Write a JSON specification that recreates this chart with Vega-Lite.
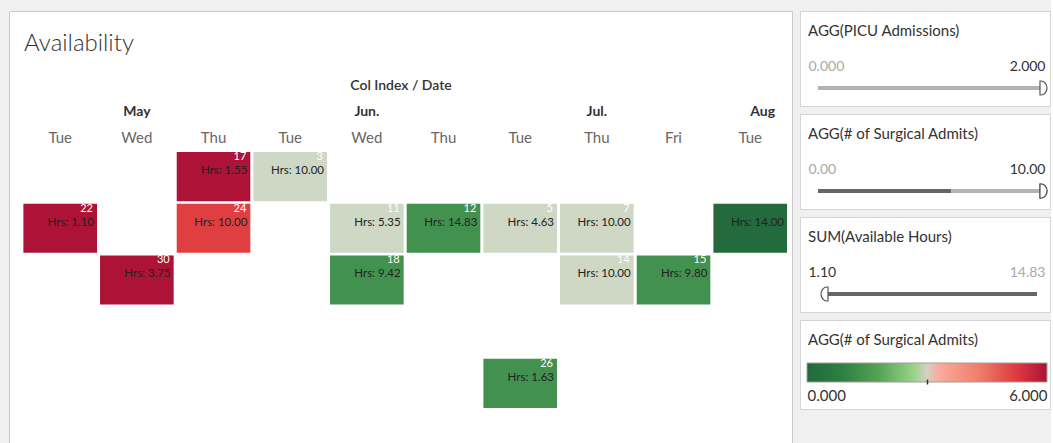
{
  "$schema": "https://vega.github.io/schema/vega-lite/v6.json",
  "background": "#f0f0f0",
  "padding": {"left": 8, "top": 10, "right": 0, "bottom": 0},
  "config": {"view": {"stroke": null}, "font": "Lato", "axis": {"grid": false}},
  "spacing": 6,
  "hconcat": [
    {
      "width": 783,
      "height": 434,
      "view": {"fill": "white", "stroke": "#c8c8c8"},
      "title": {"text": "Availability", "anchor": "start", "frame": "group", "fontSize": 24, "fontWeight": 300, "color": "#333333", "offset": -45, "dx": 15, "font": "Lato"},
      "data": {"values": [
        {"col": "0|Tue|", "row": "2", "day": "22", "hrs": 1.10, "hrsLabel": "Hrs: 1.10", "admits": 6},
        {"col": "1|Wed|May", "row": "3", "day": "30", "hrs": 3.75, "hrsLabel": "Hrs: 3.75", "admits": 6},
        {"col": "2|Thu|", "row": "1", "day": "17", "hrs": 1.55, "hrsLabel": "Hrs: 1.55", "admits": 6},
        {"col": "2|Thu|", "row": "2", "day": "24", "hrs": 10.00, "hrsLabel": "Hrs: 10.00", "admits": 5},
        {"col": "3|Tue|", "row": "1", "day": "3", "hrs": 10.00, "hrsLabel": "Hrs: 10.00", "admits": 3},
        {"col": "4|Wed|Jun.", "row": "2", "day": "11", "hrs": 5.35, "hrsLabel": "Hrs: 5.35", "admits": 3},
        {"col": "4|Wed|Jun.", "row": "3", "day": "18", "hrs": 9.42, "hrsLabel": "Hrs: 9.42", "admits": 1},
        {"col": "5|Thu|", "row": "2", "day": "12", "hrs": 14.83, "hrsLabel": "Hrs: 14.83", "admits": 1},
        {"col": "6|Tue|", "row": "2", "day": "5", "hrs": 4.63, "hrsLabel": "Hrs: 4.63", "admits": 3},
        {"col": "6|Tue|", "row": "5", "day": "26", "hrs": 1.63, "hrsLabel": "Hrs: 1.63", "admits": 1},
        {"col": "7|Thu|Jul.", "row": "2", "day": "7", "hrs": 10.00, "hrsLabel": "Hrs: 10.00", "admits": 3},
        {"col": "7|Thu|Jul.", "row": "3", "day": "14", "hrs": 10.00, "hrsLabel": "Hrs: 10.00", "admits": 3},
        {"col": "8|Fri|", "row": "3", "day": "15", "hrs": 9.80, "hrsLabel": "Hrs: 9.80", "admits": 1},
        {"col": "9|Tue|Aug", "row": "2", "day": "", "hrs": 14.00, "hrsLabel": "Hrs: 14.00", "admits": 0}
      ]},
      "encoding": {
        "x": {"field": "col", "type": "ordinal",
          "scale": {"paddingInner": 0.04, "paddingOuter": 0.1265, "align": 0.742},
          "axis": {"orient": "top", "offset": -134, "ticks": false, "domain": false, "labelPadding": 0, "title": null,
            "labelExpr": "split(datum.value, '|')[1]", "labelFontSize": 15, "labelColor": "#666666", "labelFont": "Lato", "labelAngle": 0}},
        "y": {"field": "row", "type": "ordinal",
          "scale": {"domain": ["1", "2", "3", "4", "5"], "range": [141, 397], "paddingInner": 0.05, "paddingOuter": 0},
          "axis": null}
      },
      "layer": [
        {
          "mark": {"type": "rect"},
          "encoding": {
            "color": {"field": "admits", "type": "quantitative",
              "scale": {"domain": [0, 1, 3, 5, 6], "range": ["#236a3d", "#43914f", "#cfd8c5", "#e03f41", "#ad1237"]},
              "legend": null}
          }
        },
        {
          "mark": {"type": "text", "align": "right", "baseline": "middle", "dx": -4, "dy": 5, "color": "white", "fontSize": 11, "font": "Lato"},
          "encoding": {
            "x": {"field": "col", "type": "ordinal", "bandPosition": 1,
              "axis": {"orient": "top", "offset": -107, "ticks": false, "domain": false, "labelPadding": 0,
                "title": "Col Index / Date", "titleFontSize": 14, "titleFontWeight": 600, "titleColor": "#333333", "titleFont": "Lato", "titlePadding": 12,
                "labelExpr": "split(datum.value, '|')[2]", "labelFontSize": 14, "labelFontWeight": "bold", "labelColor": "#333333", "labelFont": "Lato", "labelAngle": 0,
                "labelAlign": {"condition": {"test": "indexof(datum.value, 'Aug') >= 0", "value": "left"}, "value": "center"}}},
            "y": {"field": "row", "type": "ordinal", "bandPosition": 0},
            "text": {"field": "day"}
          }
        },
        {
          "mark": {"type": "text", "align": "right", "baseline": "middle", "dx": -3, "dy": 19, "color": "#222222", "fontSize": 11.5, "font": "Lato"},
          "encoding": {
            "x": {"field": "col", "type": "ordinal", "bandPosition": 1, "axis": null},
            "y": {"field": "row", "type": "ordinal", "bandPosition": 0},
            "text": {"field": "hrsLabel"}
          }
        }
      ],
      "resolve": {"axis": {"x": "independent"}}
    },
    {
      "spacing": 6,
      "vconcat": [
        {
          "width": 250, "height": 95,
          "view": {"fill": "white", "stroke": "#d4d4d4"},
          "title": {"text": "AGG(PICU Admissions)", "anchor": "start", "frame": "group", "fontSize": 15, "fontWeight": "normal", "color": "#333333", "offset": -28, "dx": 8, "font": "Lato"},
          "data": {"values": [{"measure": "AGG(PICU Admissions)", "start": 0, "end": 2, "part": "outside", "handle": 2}]},
          "encoding": {"y": {"field": "measure", "type": "nominal", "axis": null, "scale": {"range": [70, 84], "paddingInner": 0, "paddingOuter": 0}}},
          "layer": [
            {
              "mark": {"type": "rule", "strokeWidth": 4},
              "encoding": {
                "x": {"field": "start", "type": "quantitative",
                  "scale": {"domain": [0, 2], "range": [18, 240], "nice": false, "zero": false},
                  "axis": {"orient": "top", "values": [0, 2], "format": ".3f", "offset": -62, "ticks": false, "domain": false, "labelPadding": 0, "title": null, "labelFontSize": 14, "labelFont": "Lato", "labelFlush": false, "labelOverlap": false,
                    "labelColor": {"condition": {"test": "datum.index == 0", "value": "#a8a8a8"}, "value": "#333333"},
                    "labelAlign": {"condition": {"test": "datum.index == 0", "value": "left"}, "value": "right"},
                    "labelOffset": {"condition": {"test": "datum.index == 0", "value": -10}, "value": 5}}},
                "x2": {"field": "end"},
                "color": {"field": "part", "type": "nominal", "scale": {"domain": ["inside", "outside"], "range": ["#666666", "#b3b3b3"]}, "legend": null}
              }
            },
            {
              "mark": {"type": "point", "shape": "M0,-1L0.15,-1A0.85,1 0 0 1 0.15,1L0,1Z", "size": 196, "filled": true, "fill": "white", "stroke": "#555555", "strokeWidth": 1.2, "opacity": 1},
              "encoding": {"x": {"field": "handle", "type": "quantitative"}}
            }
          ]
        },
        {
          "width": 250, "height": 95,
          "view": {"fill": "white", "stroke": "#d4d4d4"},
          "title": {"text": "AGG(# of Surgical Admits)", "anchor": "start", "frame": "group", "fontSize": 15, "fontWeight": "normal", "color": "#333333", "offset": -28, "dx": 8, "font": "Lato"},
          "data": {"values": [
            {"measure": "AGG(# of Surgical Admits)", "start": 0, "end": 6, "part": "inside", "handle": 10},
            {"measure": "AGG(# of Surgical Admits)", "start": 6, "end": 10, "part": "outside", "handle": 10}
          ]},
          "encoding": {"y": {"field": "measure", "type": "nominal", "axis": null, "scale": {"range": [70, 84], "paddingInner": 0, "paddingOuter": 0}}},
          "layer": [
            {
              "mark": {"type": "rule", "strokeWidth": 4},
              "encoding": {
                "x": {"field": "start", "type": "quantitative",
                  "scale": {"domain": [0, 10], "range": [18, 240], "nice": false, "zero": false},
                  "axis": {"orient": "top", "values": [0, 10], "format": ".2f", "offset": -62, "ticks": false, "domain": false, "labelPadding": 0, "title": null, "labelFontSize": 14, "labelFont": "Lato", "labelFlush": false, "labelOverlap": false,
                    "labelColor": {"condition": {"test": "datum.index == 0", "value": "#a8a8a8"}, "value": "#333333"},
                    "labelAlign": {"condition": {"test": "datum.index == 0", "value": "left"}, "value": "right"},
                    "labelOffset": {"condition": {"test": "datum.index == 0", "value": -10}, "value": 5}}},
                "x2": {"field": "end"},
                "color": {"field": "part", "type": "nominal", "scale": {"domain": ["inside", "outside"], "range": ["#666666", "#b3b3b3"]}, "legend": null}
              }
            },
            {
              "mark": {"type": "point", "shape": "M0,-1L0.15,-1A0.85,1 0 0 1 0.15,1L0,1Z", "size": 196, "filled": true, "fill": "white", "stroke": "#555555", "strokeWidth": 1.2, "opacity": 1},
              "encoding": {"x": {"field": "handle", "type": "quantitative"}}
            }
          ]
        },
        {
          "width": 250, "height": 95,
          "view": {"fill": "white", "stroke": "#d4d4d4"},
          "title": {"text": "SUM(Available Hours)", "anchor": "start", "frame": "group", "fontSize": 15, "fontWeight": "normal", "color": "#333333", "offset": -28, "dx": 8, "font": "Lato"},
          "data": {"values": [{"measure": "SUM(Available Hours)", "start": 1.10, "end": 14.83, "part": "inside", "handle": 1.10}]},
          "encoding": {"y": {"field": "measure", "type": "nominal", "axis": null, "scale": {"range": [70, 84], "paddingInner": 0, "paddingOuter": 0}}},
          "layer": [
            {
              "mark": {"type": "rule", "strokeWidth": 4},
              "encoding": {
                "x": {"field": "start", "type": "quantitative",
                  "scale": {"domain": [1.10, 14.83], "range": [28, 237], "nice": false, "zero": false},
                  "axis": {"orient": "top", "values": [1.10, 14.83], "format": ".2f", "offset": -62, "ticks": false, "domain": false, "labelPadding": 0, "title": null, "labelFontSize": 14, "labelFont": "Lato", "labelFlush": false, "labelOverlap": false,
                    "labelColor": {"condition": {"test": "datum.index == 0", "value": "#333333"}, "value": "#a8a8a8"},
                    "labelAlign": {"condition": {"test": "datum.index == 0", "value": "left"}, "value": "right"},
                    "labelOffset": {"condition": {"test": "datum.index == 0", "value": -20}, "value": 8}}},
                "x2": {"field": "end"},
                "color": {"field": "part", "type": "nominal", "scale": {"domain": ["inside", "outside"], "range": ["#666666", "#b3b3b3"]}, "legend": null}
              }
            },
            {
              "mark": {"type": "point", "shape": "M0,-1L-0.15,-1A0.85,1 0 0 0 -0.15,1L0,1Z", "size": 196, "filled": true, "fill": "white", "stroke": "#555555", "strokeWidth": 1.2, "opacity": 1},
              "encoding": {"x": {"field": "handle", "type": "quantitative"}}
            }
          ]
        },
        {
          "width": 250, "height": 89,
          "view": {"fill": "white", "stroke": "#d4d4d4"},
          "title": {"text": "AGG(# of Surgical Admits)", "anchor": "start", "frame": "group", "fontSize": 15, "fontWeight": "normal", "color": "#333333", "offset": -28, "dx": 8, "font": "Lato"},
          "data": {"values": [{"measure": "AGG(# of Surgical Admits)", "low": 0, "high": 6}]},
          "mark": {"type": "rect", "stroke": "#a39d95", "strokeWidth": 1,
            "color": {"gradient": "linear", "x1": 0, "x2": 1, "y1": 0, "y2": 0, "stops": [
              {"offset": 0, "color": "#1f6a3b"},
              {"offset": 0.15, "color": "#2f7f43"},
              {"offset": 0.3, "color": "#55a455"},
              {"offset": 0.45, "color": "#9cd48c"},
              {"offset": 0.5, "color": "#d7d0c4"},
              {"offset": 0.55, "color": "#f8ac9d"},
              {"offset": 0.72, "color": "#f07c6a"},
              {"offset": 0.87, "color": "#de3b40"},
              {"offset": 1, "color": "#ad1237"}
            ]}},
          "encoding": {
            "x": {"field": "low", "type": "quantitative",
              "scale": {"domain": [0, 6], "range": [7, 247], "nice": false, "zero": false},
              "axis": {"orient": "bottom", "values": [0, 3, 6], "labelExpr": "datum.value == 3 ? '' : format(datum.value, '.3f')", "offset": -30, "tickSize": 5, "tickColor": "#333333", "tickWidth": 1.5,
                "tickOpacity": {"condition": {"test": "datum.value == 3", "value": 1}, "value": 0},
                "domain": false, "labelFlush": true, "labelPadding": 4, "title": null, "zindex": 1, "labelFontSize": 15, "labelColor": "#333333", "labelFont": "Lato", "labelOverlap": false}},
            "x2": {"field": "high"},
            "y": {"field": "measure", "type": "nominal", "axis": null, "scale": {"range": [43, 62], "paddingInner": 0, "paddingOuter": 0}}
          }
        }
      ]
    }
  ]
}
